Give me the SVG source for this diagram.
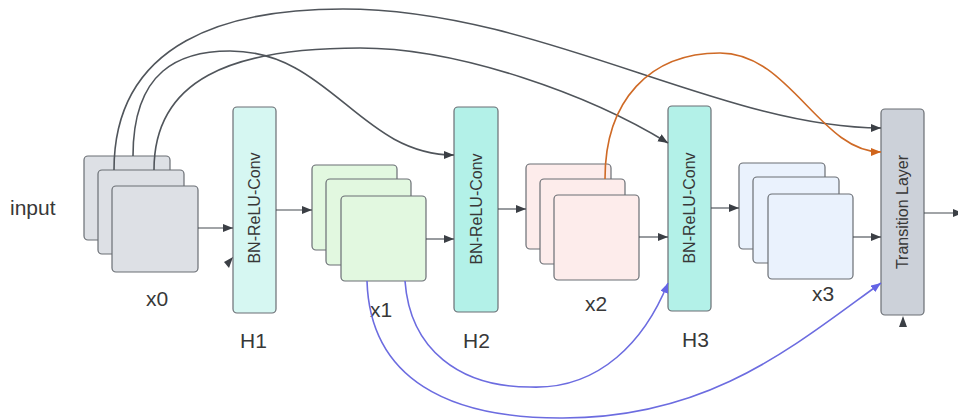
<svg xmlns="http://www.w3.org/2000/svg" width="958" height="419" viewBox="0 0 958 419">
<defs>
<style>
.lbl{font-family:"Liberation Sans",Arial,sans-serif;font-size:21px;fill:#383838}
.vt{font-family:"Liberation Sans",Arial,sans-serif;font-size:16px;fill:#383838;text-anchor:middle;dominant-baseline:central}
.bx{stroke:#6a6e74;stroke-width:1.2}
.g0{fill:#dde0e5}
.g1{fill:#e2f8e0}
.g2{fill:#fdeceb}
.g3{fill:#eaf2fd}
.str{fill:none;stroke:#444a50;stroke-width:1.1}
.cv{fill:none;stroke:#50555b;stroke-width:1.6}
.or{fill:none;stroke:#cf6a26;stroke-width:1.6}
.bl{fill:none;stroke:#6c6ce0;stroke-width:1.6}
</style>
<marker id="ah" markerUnits="userSpaceOnUse" markerWidth="11" markerHeight="9" refX="10" refY="4" orient="auto"><path d="M0,0 L10,4 L0,8 z" fill="#3b3f45"/></marker>
<marker id="aho" markerUnits="userSpaceOnUse" markerWidth="11" markerHeight="9" refX="10" refY="4" orient="auto"><path d="M0,0 L10,4 L0,8 z" fill="#d0651c"/></marker>
<marker id="ahb" markerUnits="userSpaceOnUse" markerWidth="11" markerHeight="9" refX="10" refY="4" orient="auto"><path d="M0,0 L10,4 L0,8 z" fill="#6464e6"/></marker>
</defs>
<rect width="958" height="419" fill="#ffffff"/>

<text class="lbl" x="10" y="215">input</text>

<g id="x0">
<rect class="bx g0" x="84" y="156" width="86" height="84" rx="4"/>
<rect class="bx g0" x="98" y="170" width="86" height="84" rx="4"/>
<rect class="bx g0" x="112" y="186" width="86" height="86" rx="4"/>
<text class="lbl" x="146" y="306">x0</text>
</g>

<g id="H1">
<rect class="bx" x="233" y="107" width="43" height="206" rx="4" fill="#d6f7f2"/>
<text class="vt" transform="rotate(-90 254.5 208)" x="254.5" y="208">BN-ReLU-Conv</text>
<text class="lbl" x="240" y="348">H1</text>
</g>

<g id="x1">
<rect class="bx g1" x="312" y="165" width="85" height="85" rx="4"/>
<rect class="bx g1" x="326" y="179" width="85" height="86" rx="4"/>
<rect class="bx g1" x="341" y="196" width="85" height="85" rx="4"/>
<text class="lbl" x="370" y="317">x1</text>
</g>

<g id="H2">
<rect class="bx" x="454" y="107" width="44" height="205" rx="4" fill="#b3f1e8"/>
<text class="vt" transform="rotate(-90 476 209)" x="476" y="209">BN-ReLU-Conv</text>
<text class="lbl" x="463" y="348">H2</text>
</g>

<g id="x2">
<rect class="bx g2" x="526" y="164" width="85" height="85" rx="4"/>
<rect class="bx g2" x="540" y="179" width="85" height="85" rx="4"/>
<rect class="bx g2" x="554" y="195" width="85" height="85" rx="4"/>
<text class="lbl" x="585" y="311">x2</text>
</g>

<g id="H3">
<rect class="bx" x="668" y="106" width="43" height="205" rx="4" fill="#b3f1e8"/>
<text class="vt" transform="rotate(-90 689.5 208)" x="689.5" y="208">BN-ReLU-Conv</text>
<text class="lbl" x="682" y="347">H3</text>
</g>

<g id="x3">
<rect class="bx g3" x="739" y="163" width="86" height="86" rx="4"/>
<rect class="bx g3" x="753" y="177" width="86" height="86" rx="4"/>
<rect class="bx g3" x="768" y="194" width="85" height="85" rx="4"/>
<text class="lbl" x="812" y="301">x3</text>
</g>

<g id="transition">
<rect class="bx" x="881" y="109" width="43" height="206" rx="4" fill="#ccd1d9"/>
<text class="vt" transform="rotate(-90 902.5 212)" x="902.5" y="212">Transition Layer</text>
</g>

<g id="connectors">
<line class="str" x1="198" y1="228" x2="233" y2="228" marker-end="url(#ah)"/>
<line class="str" x1="276" y1="210" x2="312" y2="210" marker-end="url(#ah)"/>
<line class="str" x1="426" y1="239" x2="454" y2="239" marker-end="url(#ah)"/>
<line class="str" x1="498" y1="209" x2="526" y2="209" marker-end="url(#ah)"/>
<line class="str" x1="639" y1="237" x2="668" y2="237" marker-end="url(#ah)"/>
<line class="str" x1="711" y1="208" x2="739" y2="208" marker-end="url(#ah)"/>
<line class="str" x1="853" y1="237" x2="881" y2="237" marker-end="url(#ah)"/>
<line class="str" x1="924" y1="213" x2="963" y2="213" marker-end="url(#ah)"/>

<path class="cv" d="M114,170 C114,40 230,9 343,9 C540,9 720,128 881,128" marker-end="url(#ah)"/>
<path class="cv" d="M133,156 C133,70 180,51 230,51 C330,51 360,155 454,155" marker-end="url(#ah)"/>
<path class="cv" d="M154,170 C154,80 230,48 360,48 C460,48 590,95 668,143" marker-end="url(#ah)"/>
<path class="or" d="M605,179 C605,100 650,53 720,53 C790,53 820,152 881,152" marker-end="url(#aho)"/>
<path class="bl" d="M367,281 C370,380 450,418 560,418 C710,419 795,345 881,283" marker-end="url(#ahb)"/>
<path class="bl" d="M405,281 C410,350 460,387 530,387 C600,390 645,340 668,283" marker-end="url(#ahb)"/>

<polygon points="233,257 224,262 229,268" fill="#3b3f45"/>
<polygon points="903,316 899,327 907,327" fill="#3b3f45"/>
</g>
</svg>
